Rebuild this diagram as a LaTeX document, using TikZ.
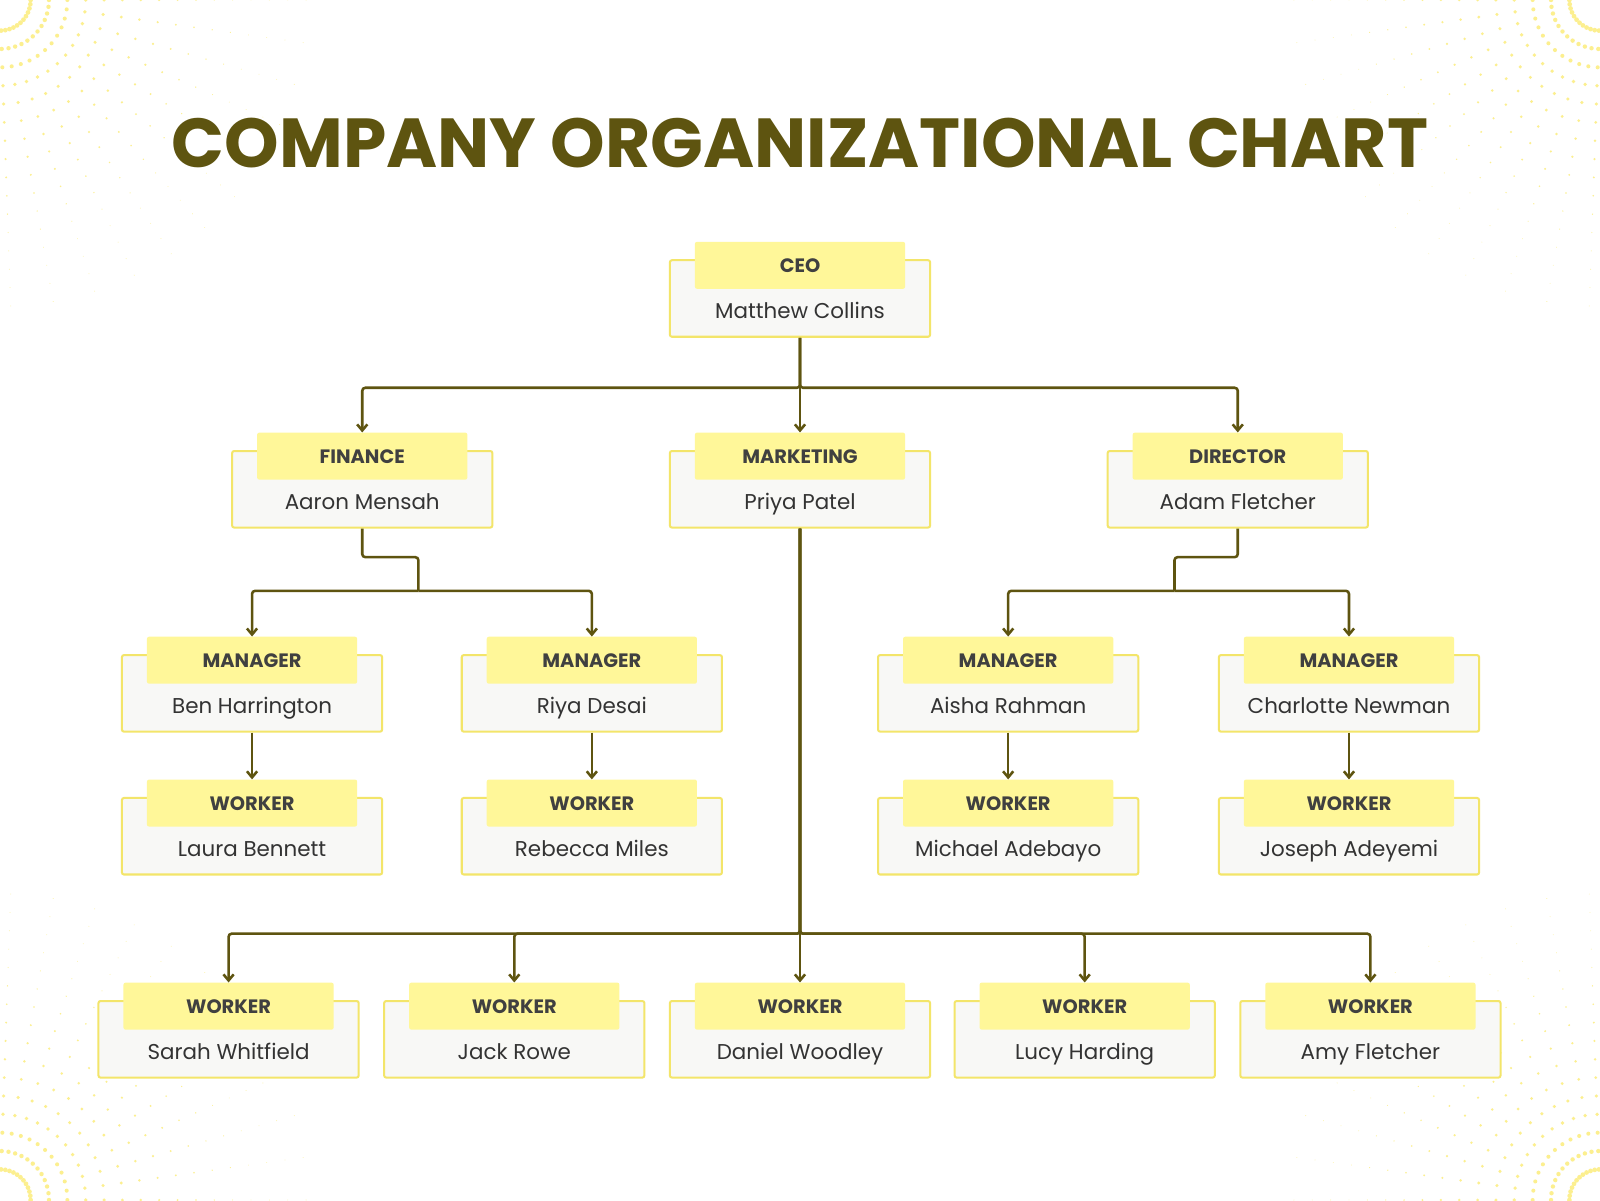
\documentclass[tikz,border=0pt]{standalone}
\usepackage{fontspec}
\setmainfont{Poppins}
\usetikzlibrary{positioning,arrows.meta}
\definecolor{olive}{HTML}{5E5410}
\definecolor{tabyellow}{HTML}{FFF799}
\definecolor{edgeyellow}{HTML}{F3E56A}
\definecolor{boxgray}{HTML}{F8F8F6}
\definecolor{dotyellow}{HTML}{FCEF8F}
\tikzset{
  card/.style={draw=edgeyellow, line width=2pt, fill=boxgray, minimum width=255pt, minimum height=75pt, inner sep=0pt, rounded corners=2pt},
  tab/.style={fill=tabyellow, minimum width=206pt, minimum height=46pt, inner sep=0pt, rounded corners=2pt},
  role/.style={anchor=base, inner sep=0pt, font=\fontsize{19}{22}\selectfont\bfseries, text=black!75},
  who/.style={anchor=base, inner sep=0pt, font=\fontsize{21}{25}\selectfont, text=black!80},
  link/.style={draw=olive, line width=2.5pt, rounded corners=3pt},
  arr/.style={link, -{Straight Barb[length=6pt,width=10pt]}},
}
% card: name, x, top of tab, role, person
\newcommand{\orgcard}[5]{
  \node[card] (#1) at (#2,#3+55.5) {};
  \node[tab] (#1t) at (#2,#3+23) {};
  \node[role] (#1r) at (#2,#3+30) {#4};
  \node[who] (#1n) at (#2,#3+75) {#5};
}
\begin{document}
\begin{tikzpicture}[x=1pt,y=-1pt]
  \useasboundingbox (0,0) rectangle (1568,1176);
  \fill[white] (0,0) rectangle (1568,1176);

  % corner dots
  \foreach \r in {30,48,...,300} {
    \foreach \a in {0,8,...,90} {
      \pgfmathsetmacro{\s}{max(0.4,2.6-\r/110)}
      \fill[dotyellow] (\a:\r) circle (\s pt);
      \fill[dotyellow] (1568,0) ++(180-\a:\r) circle (\s pt);
      \fill[dotyellow] (0,1176) ++(-\a:\r) circle (\s pt);
      \fill[dotyellow] (1568,1176) ++(180+\a:\r) circle (\s pt);
    }
  }

  \node[font=\fontsize{68}{78}\selectfont\bfseries, text=olive] (title) at (784,140) {COMPANY ORGANIZATIONAL CHART};

  \orgcard{ceo}{784}{237}{CEO}{Matthew Collins}
  \orgcard{fin}{355}{424}{FINANCE}{Aaron Mensah}
  \orgcard{mkt}{784}{424}{MARKETING}{Priya Patel}
  \orgcard{dir}{1213}{424}{DIRECTOR}{Adam Fletcher}
  \orgcard{mga}{247}{624}{MANAGER}{Ben Harrington}
  \orgcard{mgb}{580}{624}{MANAGER}{Riya Desai}
  \orgcard{mgc}{988}{624}{MANAGER}{Aisha Rahman}
  \orgcard{mgd}{1322}{624}{MANAGER}{Charlotte Newman}
  \orgcard{wka}{247}{764}{WORKER}{Laura Bennett}
  \orgcard{wkb}{580}{764}{WORKER}{Rebecca Miles}
  \orgcard{wkc}{988}{764}{WORKER}{Michael Adebayo}
  \orgcard{wkd}{1322}{764}{WORKER}{Joseph Adeyemi}
  \orgcard{wpa}{224}{963}{WORKER}{Sarah Whitfield}
  \orgcard{wpb}{504}{963}{WORKER}{Jack Rowe}
  \orgcard{wpc}{784}{963}{WORKER}{Daniel Woodley}
  \orgcard{wpd}{1063}{963}{WORKER}{Lucy Harding}
  \orgcard{wpe}{1343}{963}{WORKER}{Amy Fletcher}

  % ceo level
  \foreach \t in {fin,mkt,dir}
    \draw[arr] (ceo.south) |- (\t t.north |- 0,380) -- (\t t.north);
  % finance
  \coordinate (finj) at (410,546);
  \draw[link] (fin.south) |- (finj) -- (410,579);
  \foreach \t in {mga,mgb}
    \draw[arr] (410,579) -| (\t t.north);
  % director
  \coordinate (dirj) at (1151,546);
  \draw[link] (dir.south) |- (dirj) -- (1151,579);
  \foreach \t in {mgc,mgd}
    \draw[arr] (1151,579) -| (\t t.north);
  % managers to workers
  \foreach \m/\w in {mga/wka,mgb/wkb,mgc/wkc,mgd/wkd}
    \draw[arr] (\m.south) -- (\w t.north);
  % marketing
  \foreach \t in {wpa,wpb,wpc,wpd,wpe}
    \draw[arr] (mkt.south) |- (\t t.north |- 0,915) -- (\t t.north);
\end{tikzpicture}
\end{document}
